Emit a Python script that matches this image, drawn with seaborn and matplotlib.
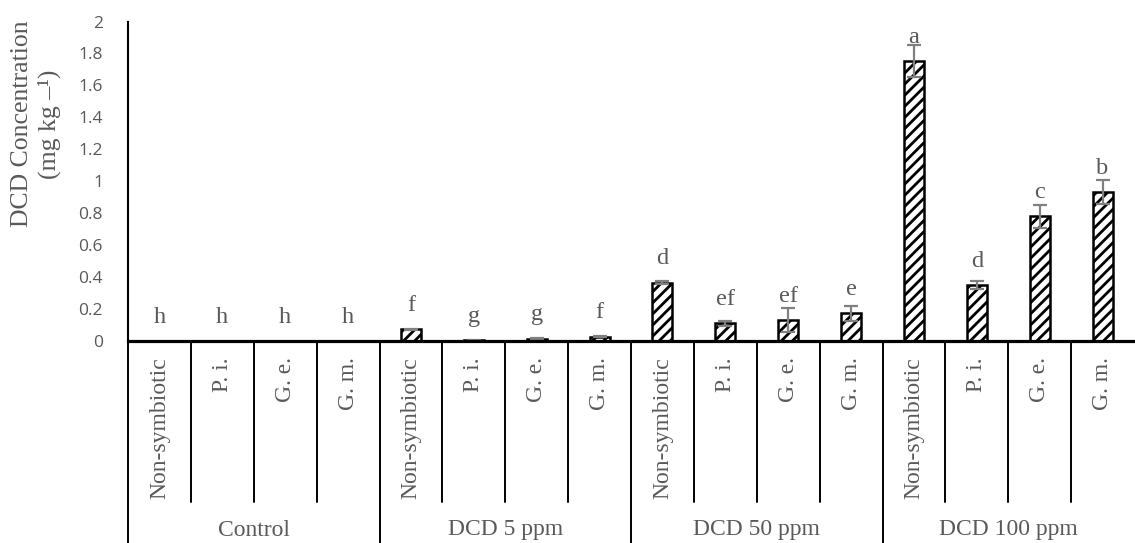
import numpy as np
import pandas as pd
import matplotlib.pyplot as plt
import seaborn as sns

# data
groups = ["Control", "DCD 5 ppm", "DCD 50 ppm", "DCD 100 ppm"]
treatments = ["Non-symbiotic", "P. i.", "G. e.", "G. m."]
dcd_mean = [0.0, 0.0, 0.0, 0.0,
            0.072, 0.005, 0.014, 0.026,
            0.365, 0.11, 0.13, 0.173,
            1.75, 0.35, 0.78, 0.93]
dcd_err = [0.0, 0.0, 0.0, 0.0,
           0.004, 0.002, 0.004, 0.004,
           0.008, 0.015, 0.075, 0.047,
           0.10, 0.025, 0.07, 0.075]
letters = ["h", "h", "h", "h",
           "f", "g", "g", "f",
           "d", "ef", "ef", "e",
           "a", "d", "c", "b"]

df = pd.DataFrame({
    "group": np.repeat(groups, len(treatments)),
    "treatment": treatments * len(groups),
    "value": dcd_mean,
    "err": dcd_err,
    "letter": letters,
})
df["key"] = df["group"] + " | " + df["treatment"]

sns.set_style("white")
plt.rcParams["hatch.linewidth"] = 2.0
serif = ["Liberation Serif", "DejaVu Serif"]
grey = "#595959"

fig = plt.figure(figsize=(11.35, 5.43), dpi=100)
ax = fig.add_axes([128 / 1135, 202 / 543, 1006 / 1135, 319.5 / 543])

sns.barplot(data=df, x="key", y="value", order=list(df["key"]), ax=ax,
            color="white", edgecolor="black", linewidth=1.8, width=0.32,
            hatch="///", errorbar=None, zorder=2)

# error bars (skip the zero ones)
pos = np.arange(len(df))
m = df["err"] > 0
ax.errorbar(pos[m], df["value"][m], yerr=df["err"][m], fmt="none",
            ecolor="#808080", elinewidth=1.6, capsize=5, capthick=1.6, zorder=3)

# significance letters
for i, row in df.iterrows():
    ax.text(i, row["value"] + 0.115, row["letter"], ha="center", va="baseline",
            fontsize=17.5, family=serif, color=grey)

ax.set_ylim(0, 2)
ax.set_xlim(-0.5, len(df) - 0.5)
ax.set_yticks(np.arange(0, 2.01, 0.2))
ax.set_yticklabels(["0", "0.2", "0.4", "0.6", "0.8", "1", "1.2", "1.4", "1.6", "1.8", "2"])
ax.tick_params(axis="y", length=0, pad=18, labelsize=12.5, labelcolor=grey)
for lab in ax.get_yticklabels():
    lab.set_family(["Open Sans", "DejaVu Sans"])
ax.set_xticks([])
ax.set_xlabel("")
ax.set_ylabel("")
for s in ["top", "right"]:
    ax.spines[s].set_visible(False)
ax.spines["left"].set_linewidth(1.5)
ax.spines["left"].set_color("black")
ax.spines["bottom"].set_linewidth(2.3)
ax.spines["bottom"].set_color("black")
ax.spines["bottom"].set_zorder(4)

# multi-level category axis drawn below the plot
tr = ax.get_xaxis_transform()
unit = 319.5
for k in range(len(df)):
    x = k - 0.5
    low = -202 / unit if k % 4 == 0 else -161 / unit
    ax.plot([x, x], [0, low], color="black", lw=1.4, transform=tr, clip_on=False)
for i, row in df.iterrows():
    ax.text(i, -16 / unit, row["treatment"], rotation=90, ha="center", va="top",
            fontsize=17, family=serif, color=grey, transform=tr)
for g, name in enumerate(groups):
    ax.text(g * 4 + 1.5, -189 / unit, name, ha="center", va="center",
            fontsize=17, family=serif, color=grey, transform=tr)

fig.text(36 / 1135, 1 - 124 / 543, "DCD Concentration\n(mg kg –¹)", rotation=90,
         ha="center", va="center", multialignment="center", linespacing=1.2,
         fontsize=18.5, family=serif, color=grey)

fig.savefig("out.png", dpi=100)
